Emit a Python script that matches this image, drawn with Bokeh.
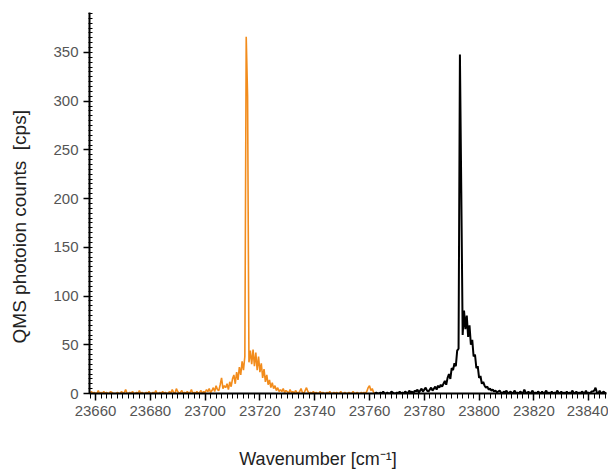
import numpy as np
from bokeh.plotting import figure
from bokeh.models import FixedTicker, Range1d
from bokeh.embed import file_html
from bokeh.resources import INLINE

# ---------------- data ----------------
step = 0.5
orange_start = 23657.5
orange_counts = [
    1, 0, 2, 0, 1, 0, 0, 3, 0, 1, 0, 2, 0, 1, 0, 0, 2, 1, 0, 0,
    0, 1, 0, 0, 2, 0, 1, 4, 0, 0, 1, 0, 2, 0, 0, 1, 0, 3, 0, 1,
    0, 0, 1, 0, 2, 0, 0, 1, 0, 3, 0, 0, 1, 0, 2, 0, 1, 0, 0, 2,
    0, 4, 1, 0, 5, 2, 0, 1, 3, 0, 1, 0, 2, 0, 1, 4, 0, 1, 0, 2,
    0, 1, 3, 0, 2, 1, 4, 2, 5, 1, 3, 6, 2, 8, 4, 3, 9, 16, 5, 8,
    6, 10, 4, 12, 7, 15, 19, 10, 22, 14, 27, 19, 33, 24, 38, 366, 305, 32, 44, 30,
    45, 28, 42, 24, 38, 22, 31, 16, 25, 12, 19, 9, 14, 6, 11, 5, 8, 3, 6, 2,
    4, 2, 5, 1, 3, 2, 0, 4, 1, 2, 0, 3, 1, 0, 2, 5, 1, 0, 3, 6,
    2, 0, 1, 0, 2, 0, 1, 0, 0, 2, 0, 1, 0, 0, 1, 0, 2, 0, 0, 1,
    0, 1, 0, 0, 2, 0, 0, 1, 0, 0, 1, 0, 0, 2, 0, 0, 1, 0, 0, 1,
    0, 1, 0, 2, 6, 8, 3, 5, 1, 0,
]
black_start = 23762.0
black_counts = [
    0, 1, 0, 0, 1, 0, 2, 0, 0, 1, 0, 0, 2, 1, 0, 0, 1, 0, 2, 0,
    1, 0, 2, 1, 0, 3, 1, 2, 0, 3, 2, 4, 1, 3, 5, 2, 4, 6, 3, 2,
    4, 6, 3, 5, 7, 4, 8, 6, 9, 7, 10, 13, 9, 16, 20, 15, 26, 24, 31, 28,
    44, 46, 348, 207, 60, 85, 66, 80, 58, 70, 50, 55, 38, 40, 26, 28, 16, 18, 10, 12,
    8, 6, 7, 4, 5, 3, 4, 2, 3, 1, 2, 3, 1, 0, 2, 1, 3, 0, 1, 2,
    0, 1, 3, 0, 1, 0, 2, 1, 0, 4, 1, 0, 2, 0, 1, 3, 0, 1, 0, 2,
    1, 0, 2, 0, 1, 3, 0, 1, 0, 2, 0, 1, 0, 3, 1, 0, 2, 0, 1, 0,
    2, 0, 1, 0, 3, 1, 0, 2, 0, 1, 0, 2, 1, 0, 3, 0, 1, 0, 2, 2,
    3, 6, 1, 0, 3, 0, 1, 2, 0, 1,
]
x_ticks = [23660, 23680, 23700, 23720, 23740, 23760, 23780, 23800, 23820, 23840]
y_ticks = [0, 50, 100, 150, 200, 250, 300, 350]
x_label = "Wavenumber [cm\u207b\u00b9]"
y_label = "QMS photoion counts \u00a0[cps]"

orange_x = orange_start + step * np.arange(len(orange_counts))
black_x = black_start + step * np.arange(len(black_counts))

# ---------------- figure ----------------
x0, x1 = 23657.8, 23846.5
p = figure(width=608, height=472, output_backend="svg", toolbar_location=None,
           x_range=Range1d(x0, x1), y_range=Range1d(0, 391),
           min_border_left=89, min_border_right=2, min_border_top=12,
           min_border_bottom=79, background_fill_color="white",
           border_fill_color="white")
p.outline_line_color = None
p.grid.visible = False

p.line(orange_x, orange_counts, line_color="#F28C1C", line_width=1.6)
p.line(black_x, black_counts, line_color="black", line_width=2)

font = "Liberation Sans"
p.xaxis.ticker = FixedTicker(ticks=x_ticks,
                             minor_ticks=list(range(23658, 23847, 2)))
p.yaxis.ticker = FixedTicker(ticks=y_ticks, minor_ticks=list(range(0, 391, 5)))
for ax in (p.xaxis[0], p.yaxis[0]):
    ax.axis_line_width = 2
    ax.axis_line_color = "black"
    ax.major_tick_line_color = "black"
    ax.minor_tick_line_color = "black"
    ax.major_tick_line_width = 1.5
    ax.minor_tick_line_width = 1
    ax.major_label_text_font = font
    ax.major_label_text_font_size = "15px"
    ax.major_label_text_color = "#555555"
    ax.major_label_standoff = 5
    ax.axis_label_text_font = font
    ax.axis_label_text_font_style = "normal"
    ax.axis_label_text_color = "#222222"
p.xaxis.major_tick_out = 7
p.xaxis.major_tick_in = 0
p.xaxis.minor_tick_out = 5
p.xaxis.minor_tick_in = 0
p.yaxis.major_tick_out = 6
p.yaxis.major_tick_in = 0
p.yaxis.minor_tick_out = 1
p.yaxis.minor_tick_in = 3

# axis titles: non-breaking padding shifts the visible text off-centre like the original
p.xaxis.axis_label = x_label + "\u00a0" * 12
p.xaxis.axis_label_text_font_size = "18px"
p.xaxis.axis_label_standoff = 30
p.yaxis.axis_label = y_label + "\u00a0" * 9
p.yaxis.axis_label_text_font_size = "19px"
p.yaxis.axis_label_standoff = 20

open("out.html", "w").write(file_html(p, INLINE))
